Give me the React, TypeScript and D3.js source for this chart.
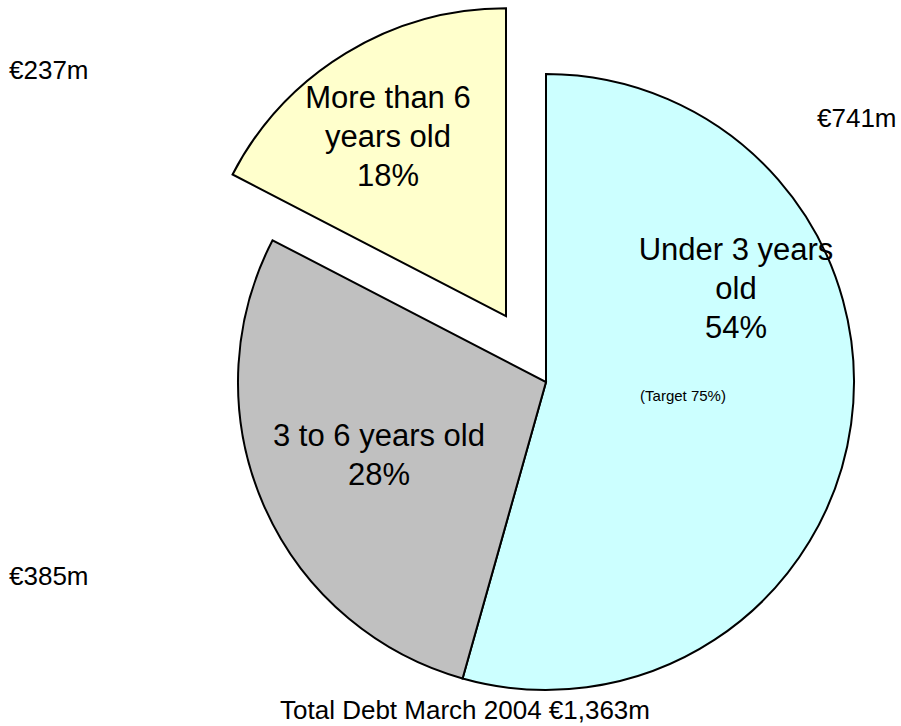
import React from "react";
import * as d3 from "d3";

const categories = ["Under 3 years old", "3 to 6 years old", "More than 6 years old"];
const values = [741, 385, 237];
const percentLabels = ["54%", "28%", "18%"];
const amountLabels = ["€741m", "€385m", "€237m"];
const colors = ["#CCFFFF", "#C0C0C0", "#FFFFCC"];
const exploded = [false, false, true];
const title = "Total Debt March 2004 €1,363m";
const note = "(Target 75%)";

export default function App() {
  const W = 901, H = 726;
  const cx = 546, cy = 382, R = 308;
  const explodeDist = 77;
  const pie = d3.pie<number>().sort(null).value((d) => d);
  const arcs = pie(values);
  const arcGen = d3.arc<d3.PieArcDatum<number>>().innerRadius(0).outerRadius(R);
  const font = "'Liberation Sans', Arial, sans-serif";

  const sliceText: { lines: string[]; x: number; y: number }[] = [
    { lines: ["Under 3 years", "old", percentLabels[0]], x: 736, y: 260 },
    { lines: ["3 to 6 years old", percentLabels[1]], x: 379, y: 446 },
    { lines: ["More than 6", "years old", percentLabels[2]], x: 388, y: 108 },
  ];
  const amountPos = [
    { x: 817, y: 127 },
    { x: 9, y: 585 },
    { x: 9, y: 79 },
  ];

  return (
    <svg width={W} height={H} style={{ position: "absolute", left: 0, top: 0 }}>
      <rect width={W} height={H} fill="#fff" />
      <g transform={`translate(${cx},${cy})`}>
        {arcs.map((a, i) => {
          const mid = (a.startAngle + a.endAngle) / 2;
          const dx = exploded[i] ? Math.sin(mid) * explodeDist : 0;
          const dy = exploded[i] ? -Math.cos(mid) * explodeDist : 0;
          return (
            <path
              key={i}
              d={arcGen(a) || ""}
              transform={`translate(${dx},${dy})`}
              fill={colors[i]}
              stroke="#000"
              strokeWidth={2}
              strokeLinejoin="miter"
            />
          );
        })}
      </g>
      {sliceText.map((t, i) => (
        <text key={i} x={t.x} y={t.y} textAnchor="middle" fontFamily={font} fontSize={31} fill="#000">
          {t.lines.map((l, j) => (
            <tspan key={j} x={t.x} dy={j === 0 ? 0 : 39}>
              {l}
            </tspan>
          ))}
        </text>
      ))}
      <text x={683} y={401} textAnchor="middle" fontFamily={font} fontSize={15} fill="#000">
        {note}
      </text>
      {amountLabels.map((l, i) => (
        <text key={i} x={amountPos[i].x} y={amountPos[i].y} fontFamily={font} fontSize={26} fill="#000">
          {l}
        </text>
      ))}
      <text x={465} y={719} textAnchor="middle" fontFamily={font} fontSize={26} fill="#000">
        {title}
      </text>
    </svg>
  );
}
